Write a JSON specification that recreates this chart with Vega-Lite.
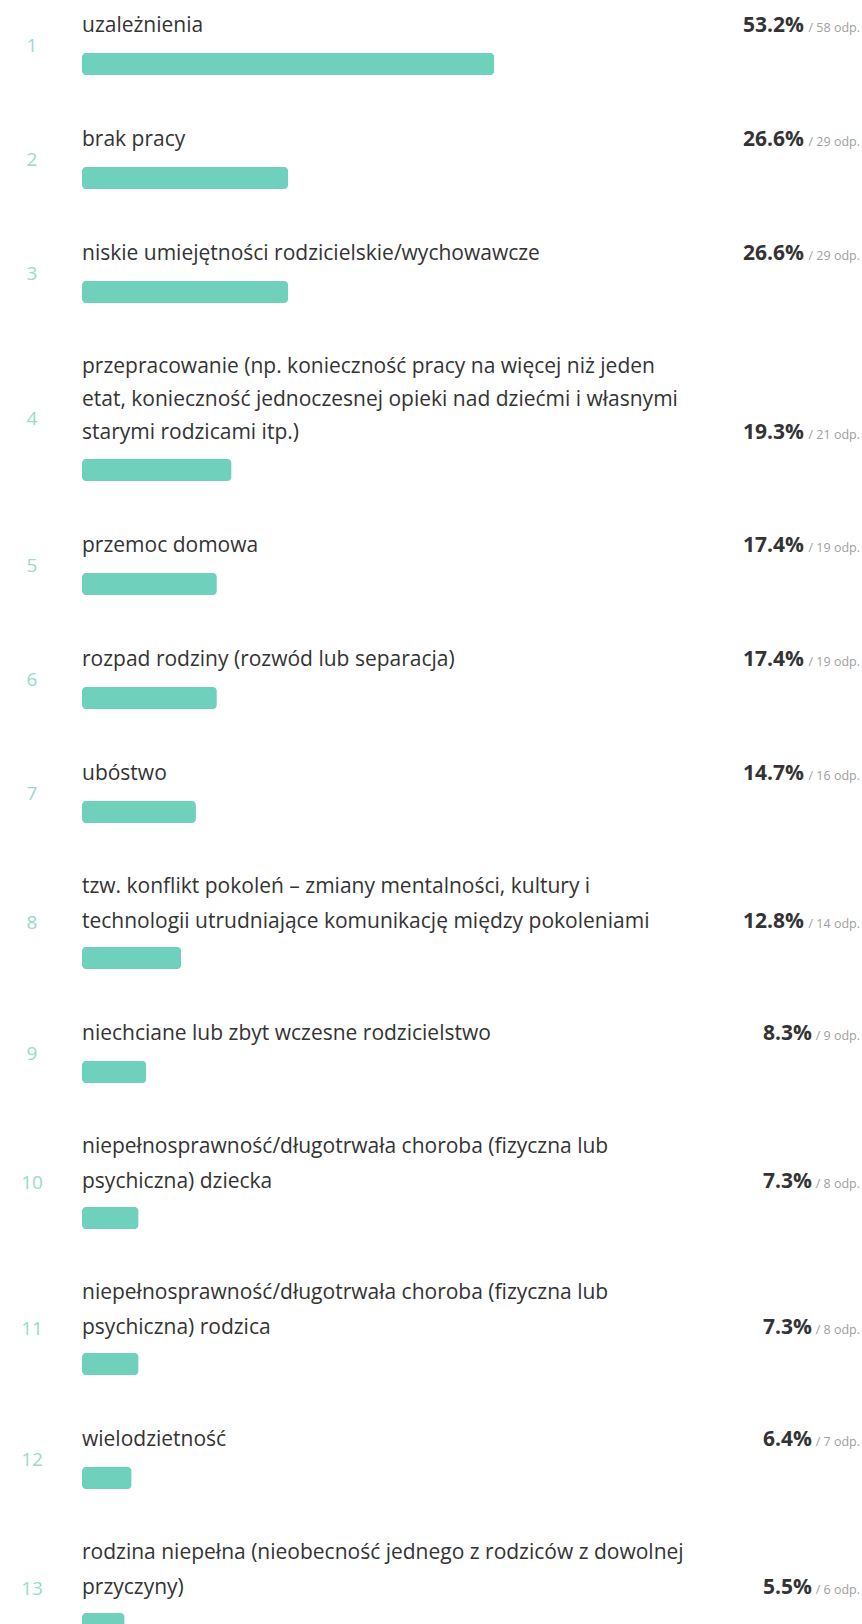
{
  "$schema": "https://vega.github.io/schema/vega-lite/v6.json",
  "background": "white",
  "padding": {"left": 0, "top": 14, "right": 0, "bottom": 0},
  "spacing": 53,
  "data": {
    "values": [
      {"rank": 1, "label": ["uzależnienia"], "share": 0.532, "n": 58},
      {"rank": 2, "label": ["brak pracy"], "share": 0.266, "n": 29},
      {"rank": 3, "label": ["niskie umiejętności rodzicielskie/wychowawcze"], "share": 0.266, "n": 29},
      {"rank": 4, "label": ["przepracowanie (np. konieczność pracy na więcej niż jeden", "etat, konieczność jednoczesnej opieki nad dziećmi i własnymi", "starymi rodzicami itp.)"], "share": 0.193, "n": 21},
      {"rank": 5, "label": ["przemoc domowa"], "share": 0.174, "n": 19},
      {"rank": 6, "label": ["rozpad rodziny (rozwód lub separacja)"], "share": 0.174, "n": 19},
      {"rank": 7, "label": ["ubóstwo"], "share": 0.147, "n": 16},
      {"rank": 8, "label": ["tzw. konflikt pokoleń – zmiany mentalności, kultury i", "technologii utrudniające komunikację między pokoleniami"], "share": 0.128, "n": 14},
      {"rank": 9, "label": ["niechciane lub zbyt wczesne rodzicielstwo"], "share": 0.083, "n": 9},
      {"rank": 10, "label": ["niepełnosprawność/długotrwała choroba (fizyczna lub", "psychiczna) dziecka"], "share": 0.073, "n": 8},
      {"rank": 11, "label": ["niepełnosprawność/długotrwała choroba (fizyczna lub", "psychiczna) rodzica"], "share": 0.073, "n": 8},
      {"rank": 12, "label": ["wielodzietność"], "share": 0.064, "n": 7},
      {"rank": 13, "label": ["rodzina niepełna (nieobecność jednego z rodziców z dowolnej", "przyczyny)"], "share": 0.055, "n": 6}
    ]
  },
  "transform": [{"calculate": "'/ ' + datum.n + ' odp.'", "as": "odp"}],
  "vconcat": [
    {"width": 862, "height": 22, "transform": [{"filter": "datum.rank == 1"}], "layer": [
      {"mark": {"type": "bar", "color": "#6fd0bc", "cornerRadius": 4, "size": 22}, "encoding": {"x": {"field": "share", "type": "quantitative", "scale": {"domain": [0, 1], "range": [82, 857]}, "axis": null}}},
      {"mark": {"type": "text", "font": "Open Sans", "fontSize": 21, "color": "#333333", "align": "left", "baseline": "bottom", "dy": -28, "lineHeight": 35}, "encoding": {"x": {"datum": 0, "type": "quantitative"}, "text": {"field": "label"}}},
      {"mark": {"type": "text", "font": "Open Sans", "fontSize": 21, "fontWeight": "bold", "color": "#333333", "align": "right", "baseline": "alphabetic", "dy": -32.4, "dx": -53}, "encoding": {"x": {"datum": 1, "type": "quantitative"}, "text": {"field": "share", "format": ".1%"}}},
      {"mark": {"type": "text", "font": "Open Sans", "fontSize": 12.5, "color": "#a0a0a0", "align": "right", "baseline": "alphabetic", "dy": -32.4, "dx": 3}, "encoding": {"x": {"datum": 1, "type": "quantitative"}, "text": {"field": "odp"}}},
      {"mark": {"type": "text", "font": "Open Sans", "fontSize": 19, "color": "#98dacb", "align": "center", "baseline": "middle", "dx": -50, "dy": -18}, "encoding": {"x": {"datum": 0, "type": "quantitative"}, "text": {"field": "rank"}}}
    ]},
    {"width": 862, "height": 22, "transform": [{"filter": "datum.rank == 2"}], "layer": [
      {"mark": {"type": "bar", "color": "#6fd0bc", "cornerRadius": 4, "size": 22}, "encoding": {"x": {"field": "share", "type": "quantitative", "scale": {"domain": [0, 1], "range": [82, 857]}, "axis": null}}},
      {"mark": {"type": "text", "font": "Open Sans", "fontSize": 21, "color": "#333333", "align": "left", "baseline": "bottom", "dy": -28, "lineHeight": 35}, "encoding": {"x": {"datum": 0, "type": "quantitative"}, "text": {"field": "label"}}},
      {"mark": {"type": "text", "font": "Open Sans", "fontSize": 21, "fontWeight": "bold", "color": "#333333", "align": "right", "baseline": "alphabetic", "dy": -32.4, "dx": -53}, "encoding": {"x": {"datum": 1, "type": "quantitative"}, "text": {"field": "share", "format": ".1%"}}},
      {"mark": {"type": "text", "font": "Open Sans", "fontSize": 12.5, "color": "#a0a0a0", "align": "right", "baseline": "alphabetic", "dy": -32.4, "dx": 3}, "encoding": {"x": {"datum": 1, "type": "quantitative"}, "text": {"field": "odp"}}},
      {"mark": {"type": "text", "font": "Open Sans", "fontSize": 19, "color": "#98dacb", "align": "center", "baseline": "middle", "dx": -50, "dy": -18}, "encoding": {"x": {"datum": 0, "type": "quantitative"}, "text": {"field": "rank"}}}
    ]},
    {"width": 862, "height": 22, "transform": [{"filter": "datum.rank == 3"}], "layer": [
      {"mark": {"type": "bar", "color": "#6fd0bc", "cornerRadius": 4, "size": 22}, "encoding": {"x": {"field": "share", "type": "quantitative", "scale": {"domain": [0, 1], "range": [82, 857]}, "axis": null}}},
      {"mark": {"type": "text", "font": "Open Sans", "fontSize": 21, "color": "#333333", "align": "left", "baseline": "bottom", "dy": -28, "lineHeight": 35}, "encoding": {"x": {"datum": 0, "type": "quantitative"}, "text": {"field": "label"}}},
      {"mark": {"type": "text", "font": "Open Sans", "fontSize": 21, "fontWeight": "bold", "color": "#333333", "align": "right", "baseline": "alphabetic", "dy": -32.4, "dx": -53}, "encoding": {"x": {"datum": 1, "type": "quantitative"}, "text": {"field": "share", "format": ".1%"}}},
      {"mark": {"type": "text", "font": "Open Sans", "fontSize": 12.5, "color": "#a0a0a0", "align": "right", "baseline": "alphabetic", "dy": -32.4, "dx": 3}, "encoding": {"x": {"datum": 1, "type": "quantitative"}, "text": {"field": "odp"}}},
      {"mark": {"type": "text", "font": "Open Sans", "fontSize": 19, "color": "#98dacb", "align": "center", "baseline": "middle", "dx": -50, "dy": -18}, "encoding": {"x": {"datum": 0, "type": "quantitative"}, "text": {"field": "rank"}}}
    ]},
    {"width": 862, "height": 22, "transform": [{"filter": "datum.rank == 4"}], "layer": [
      {"mark": {"type": "bar", "color": "#6fd0bc", "cornerRadius": 4, "size": 22}, "encoding": {"x": {"field": "share", "type": "quantitative", "scale": {"domain": [0, 1], "range": [82, 857]}, "axis": null}}},
      {"mark": {"type": "text", "font": "Open Sans", "fontSize": 21, "color": "#333333", "align": "left", "baseline": "bottom", "dy": -93, "lineHeight": 33}, "encoding": {"x": {"datum": 0, "type": "quantitative"}, "text": {"field": "label"}}},
      {"mark": {"type": "text", "font": "Open Sans", "fontSize": 21, "fontWeight": "bold", "color": "#333333", "align": "right", "baseline": "alphabetic", "dy": -31.4, "dx": -53}, "encoding": {"x": {"datum": 1, "type": "quantitative"}, "text": {"field": "share", "format": ".1%"}}},
      {"mark": {"type": "text", "font": "Open Sans", "fontSize": 12.5, "color": "#a0a0a0", "align": "right", "baseline": "alphabetic", "dy": -31.4, "dx": 3}, "encoding": {"x": {"datum": 1, "type": "quantitative"}, "text": {"field": "odp"}}},
      {"mark": {"type": "text", "font": "Open Sans", "fontSize": 19, "color": "#98dacb", "align": "center", "baseline": "middle", "dx": -50, "dy": -51.5}, "encoding": {"x": {"datum": 0, "type": "quantitative"}, "text": {"field": "rank"}}}
    ]},
    {"width": 862, "height": 22, "transform": [{"filter": "datum.rank == 5"}], "layer": [
      {"mark": {"type": "bar", "color": "#6fd0bc", "cornerRadius": 4, "size": 22}, "encoding": {"x": {"field": "share", "type": "quantitative", "scale": {"domain": [0, 1], "range": [82, 857]}, "axis": null}}},
      {"mark": {"type": "text", "font": "Open Sans", "fontSize": 21, "color": "#333333", "align": "left", "baseline": "bottom", "dy": -28, "lineHeight": 35}, "encoding": {"x": {"datum": 0, "type": "quantitative"}, "text": {"field": "label"}}},
      {"mark": {"type": "text", "font": "Open Sans", "fontSize": 21, "fontWeight": "bold", "color": "#333333", "align": "right", "baseline": "alphabetic", "dy": -32.4, "dx": -53}, "encoding": {"x": {"datum": 1, "type": "quantitative"}, "text": {"field": "share", "format": ".1%"}}},
      {"mark": {"type": "text", "font": "Open Sans", "fontSize": 12.5, "color": "#a0a0a0", "align": "right", "baseline": "alphabetic", "dy": -32.4, "dx": 3}, "encoding": {"x": {"datum": 1, "type": "quantitative"}, "text": {"field": "odp"}}},
      {"mark": {"type": "text", "font": "Open Sans", "fontSize": 19, "color": "#98dacb", "align": "center", "baseline": "middle", "dx": -50, "dy": -18}, "encoding": {"x": {"datum": 0, "type": "quantitative"}, "text": {"field": "rank"}}}
    ]},
    {"width": 862, "height": 22, "transform": [{"filter": "datum.rank == 6"}], "layer": [
      {"mark": {"type": "bar", "color": "#6fd0bc", "cornerRadius": 4, "size": 22}, "encoding": {"x": {"field": "share", "type": "quantitative", "scale": {"domain": [0, 1], "range": [82, 857]}, "axis": null}}},
      {"mark": {"type": "text", "font": "Open Sans", "fontSize": 21, "color": "#333333", "align": "left", "baseline": "bottom", "dy": -28, "lineHeight": 35}, "encoding": {"x": {"datum": 0, "type": "quantitative"}, "text": {"field": "label"}}},
      {"mark": {"type": "text", "font": "Open Sans", "fontSize": 21, "fontWeight": "bold", "color": "#333333", "align": "right", "baseline": "alphabetic", "dy": -32.4, "dx": -53}, "encoding": {"x": {"datum": 1, "type": "quantitative"}, "text": {"field": "share", "format": ".1%"}}},
      {"mark": {"type": "text", "font": "Open Sans", "fontSize": 12.5, "color": "#a0a0a0", "align": "right", "baseline": "alphabetic", "dy": -32.4, "dx": 3}, "encoding": {"x": {"datum": 1, "type": "quantitative"}, "text": {"field": "odp"}}},
      {"mark": {"type": "text", "font": "Open Sans", "fontSize": 19, "color": "#98dacb", "align": "center", "baseline": "middle", "dx": -50, "dy": -18}, "encoding": {"x": {"datum": 0, "type": "quantitative"}, "text": {"field": "rank"}}}
    ]},
    {"width": 862, "height": 22, "transform": [{"filter": "datum.rank == 7"}], "layer": [
      {"mark": {"type": "bar", "color": "#6fd0bc", "cornerRadius": 4, "size": 22}, "encoding": {"x": {"field": "share", "type": "quantitative", "scale": {"domain": [0, 1], "range": [82, 857]}, "axis": null}}},
      {"mark": {"type": "text", "font": "Open Sans", "fontSize": 21, "color": "#333333", "align": "left", "baseline": "bottom", "dy": -28, "lineHeight": 35}, "encoding": {"x": {"datum": 0, "type": "quantitative"}, "text": {"field": "label"}}},
      {"mark": {"type": "text", "font": "Open Sans", "fontSize": 21, "fontWeight": "bold", "color": "#333333", "align": "right", "baseline": "alphabetic", "dy": -32.4, "dx": -53}, "encoding": {"x": {"datum": 1, "type": "quantitative"}, "text": {"field": "share", "format": ".1%"}}},
      {"mark": {"type": "text", "font": "Open Sans", "fontSize": 12.5, "color": "#a0a0a0", "align": "right", "baseline": "alphabetic", "dy": -32.4, "dx": 3}, "encoding": {"x": {"datum": 1, "type": "quantitative"}, "text": {"field": "odp"}}},
      {"mark": {"type": "text", "font": "Open Sans", "fontSize": 19, "color": "#98dacb", "align": "center", "baseline": "middle", "dx": -50, "dy": -18}, "encoding": {"x": {"datum": 0, "type": "quantitative"}, "text": {"field": "rank"}}}
    ]},
    {"width": 862, "height": 22, "transform": [{"filter": "datum.rank == 8"}], "layer": [
      {"mark": {"type": "bar", "color": "#6fd0bc", "cornerRadius": 4, "size": 22}, "encoding": {"x": {"field": "share", "type": "quantitative", "scale": {"domain": [0, 1], "range": [82, 857]}, "axis": null}}},
      {"mark": {"type": "text", "font": "Open Sans", "fontSize": 21, "color": "#333333", "align": "left", "baseline": "bottom", "dy": -61, "lineHeight": 35}, "encoding": {"x": {"datum": 0, "type": "quantitative"}, "text": {"field": "label"}}},
      {"mark": {"type": "text", "font": "Open Sans", "fontSize": 21, "fontWeight": "bold", "color": "#333333", "align": "right", "baseline": "alphabetic", "dy": -30.4, "dx": -53}, "encoding": {"x": {"datum": 1, "type": "quantitative"}, "text": {"field": "share", "format": ".1%"}}},
      {"mark": {"type": "text", "font": "Open Sans", "fontSize": 12.5, "color": "#a0a0a0", "align": "right", "baseline": "alphabetic", "dy": -30.4, "dx": 3}, "encoding": {"x": {"datum": 1, "type": "quantitative"}, "text": {"field": "odp"}}},
      {"mark": {"type": "text", "font": "Open Sans", "fontSize": 19, "color": "#98dacb", "align": "center", "baseline": "middle", "dx": -50, "dy": -35}, "encoding": {"x": {"datum": 0, "type": "quantitative"}, "text": {"field": "rank"}}}
    ]},
    {"width": 862, "height": 22, "transform": [{"filter": "datum.rank == 9"}], "layer": [
      {"mark": {"type": "bar", "color": "#6fd0bc", "cornerRadius": 4, "size": 22}, "encoding": {"x": {"field": "share", "type": "quantitative", "scale": {"domain": [0, 1], "range": [82, 857]}, "axis": null}}},
      {"mark": {"type": "text", "font": "Open Sans", "fontSize": 21, "color": "#333333", "align": "left", "baseline": "bottom", "dy": -28, "lineHeight": 35}, "encoding": {"x": {"datum": 0, "type": "quantitative"}, "text": {"field": "label"}}},
      {"mark": {"type": "text", "font": "Open Sans", "fontSize": 21, "fontWeight": "bold", "color": "#333333", "align": "right", "baseline": "alphabetic", "dy": -32.4, "dx": -45}, "encoding": {"x": {"datum": 1, "type": "quantitative"}, "text": {"field": "share", "format": ".1%"}}},
      {"mark": {"type": "text", "font": "Open Sans", "fontSize": 12.5, "color": "#a0a0a0", "align": "right", "baseline": "alphabetic", "dy": -32.4, "dx": 3}, "encoding": {"x": {"datum": 1, "type": "quantitative"}, "text": {"field": "odp"}}},
      {"mark": {"type": "text", "font": "Open Sans", "fontSize": 19, "color": "#98dacb", "align": "center", "baseline": "middle", "dx": -50, "dy": -18}, "encoding": {"x": {"datum": 0, "type": "quantitative"}, "text": {"field": "rank"}}}
    ]},
    {"width": 862, "height": 22, "transform": [{"filter": "datum.rank == 10"}], "layer": [
      {"mark": {"type": "bar", "color": "#6fd0bc", "cornerRadius": 4, "size": 22}, "encoding": {"x": {"field": "share", "type": "quantitative", "scale": {"domain": [0, 1], "range": [82, 857]}, "axis": null}}},
      {"mark": {"type": "text", "font": "Open Sans", "fontSize": 21, "color": "#333333", "align": "left", "baseline": "bottom", "dy": -61, "lineHeight": 35}, "encoding": {"x": {"datum": 0, "type": "quantitative"}, "text": {"field": "label"}}},
      {"mark": {"type": "text", "font": "Open Sans", "fontSize": 21, "fontWeight": "bold", "color": "#333333", "align": "right", "baseline": "alphabetic", "dy": -30.4, "dx": -45}, "encoding": {"x": {"datum": 1, "type": "quantitative"}, "text": {"field": "share", "format": ".1%"}}},
      {"mark": {"type": "text", "font": "Open Sans", "fontSize": 12.5, "color": "#a0a0a0", "align": "right", "baseline": "alphabetic", "dy": -30.4, "dx": 3}, "encoding": {"x": {"datum": 1, "type": "quantitative"}, "text": {"field": "odp"}}},
      {"mark": {"type": "text", "font": "Open Sans", "fontSize": 19, "color": "#98dacb", "align": "center", "baseline": "middle", "dx": -50, "dy": -35}, "encoding": {"x": {"datum": 0, "type": "quantitative"}, "text": {"field": "rank"}}}
    ]},
    {"width": 862, "height": 22, "transform": [{"filter": "datum.rank == 11"}], "layer": [
      {"mark": {"type": "bar", "color": "#6fd0bc", "cornerRadius": 4, "size": 22}, "encoding": {"x": {"field": "share", "type": "quantitative", "scale": {"domain": [0, 1], "range": [82, 857]}, "axis": null}}},
      {"mark": {"type": "text", "font": "Open Sans", "fontSize": 21, "color": "#333333", "align": "left", "baseline": "bottom", "dy": -61, "lineHeight": 35}, "encoding": {"x": {"datum": 0, "type": "quantitative"}, "text": {"field": "label"}}},
      {"mark": {"type": "text", "font": "Open Sans", "fontSize": 21, "fontWeight": "bold", "color": "#333333", "align": "right", "baseline": "alphabetic", "dy": -30.4, "dx": -45}, "encoding": {"x": {"datum": 1, "type": "quantitative"}, "text": {"field": "share", "format": ".1%"}}},
      {"mark": {"type": "text", "font": "Open Sans", "fontSize": 12.5, "color": "#a0a0a0", "align": "right", "baseline": "alphabetic", "dy": -30.4, "dx": 3}, "encoding": {"x": {"datum": 1, "type": "quantitative"}, "text": {"field": "odp"}}},
      {"mark": {"type": "text", "font": "Open Sans", "fontSize": 19, "color": "#98dacb", "align": "center", "baseline": "middle", "dx": -50, "dy": -35}, "encoding": {"x": {"datum": 0, "type": "quantitative"}, "text": {"field": "rank"}}}
    ]},
    {"width": 862, "height": 22, "transform": [{"filter": "datum.rank == 12"}], "layer": [
      {"mark": {"type": "bar", "color": "#6fd0bc", "cornerRadius": 4, "size": 22}, "encoding": {"x": {"field": "share", "type": "quantitative", "scale": {"domain": [0, 1], "range": [82, 857]}, "axis": null}}},
      {"mark": {"type": "text", "font": "Open Sans", "fontSize": 21, "color": "#333333", "align": "left", "baseline": "bottom", "dy": -28, "lineHeight": 35}, "encoding": {"x": {"datum": 0, "type": "quantitative"}, "text": {"field": "label"}}},
      {"mark": {"type": "text", "font": "Open Sans", "fontSize": 21, "fontWeight": "bold", "color": "#333333", "align": "right", "baseline": "alphabetic", "dy": -32.4, "dx": -45}, "encoding": {"x": {"datum": 1, "type": "quantitative"}, "text": {"field": "share", "format": ".1%"}}},
      {"mark": {"type": "text", "font": "Open Sans", "fontSize": 12.5, "color": "#a0a0a0", "align": "right", "baseline": "alphabetic", "dy": -32.4, "dx": 3}, "encoding": {"x": {"datum": 1, "type": "quantitative"}, "text": {"field": "odp"}}},
      {"mark": {"type": "text", "font": "Open Sans", "fontSize": 19, "color": "#98dacb", "align": "center", "baseline": "middle", "dx": -50, "dy": -18}, "encoding": {"x": {"datum": 0, "type": "quantitative"}, "text": {"field": "rank"}}}
    ]},
    {"width": 862, "height": 22, "transform": [{"filter": "datum.rank == 13"}], "layer": [
      {"mark": {"type": "bar", "color": "#6fd0bc", "cornerRadius": 4, "size": 22}, "encoding": {"x": {"field": "share", "type": "quantitative", "scale": {"domain": [0, 1], "range": [82, 857]}, "axis": null}}},
      {"mark": {"type": "text", "font": "Open Sans", "fontSize": 21, "color": "#333333", "align": "left", "baseline": "bottom", "dy": -61, "lineHeight": 35}, "encoding": {"x": {"datum": 0, "type": "quantitative"}, "text": {"field": "label"}}},
      {"mark": {"type": "text", "font": "Open Sans", "fontSize": 21, "fontWeight": "bold", "color": "#333333", "align": "right", "baseline": "alphabetic", "dy": -30.4, "dx": -45}, "encoding": {"x": {"datum": 1, "type": "quantitative"}, "text": {"field": "share", "format": ".1%"}}},
      {"mark": {"type": "text", "font": "Open Sans", "fontSize": 12.5, "color": "#a0a0a0", "align": "right", "baseline": "alphabetic", "dy": -30.4, "dx": 3}, "encoding": {"x": {"datum": 1, "type": "quantitative"}, "text": {"field": "odp"}}},
      {"mark": {"type": "text", "font": "Open Sans", "fontSize": 19, "color": "#98dacb", "align": "center", "baseline": "middle", "dx": -50, "dy": -35}, "encoding": {"x": {"datum": 0, "type": "quantitative"}, "text": {"field": "rank"}}}
    ]}
  ],
  "config": {"view": {"stroke": null}}
}
